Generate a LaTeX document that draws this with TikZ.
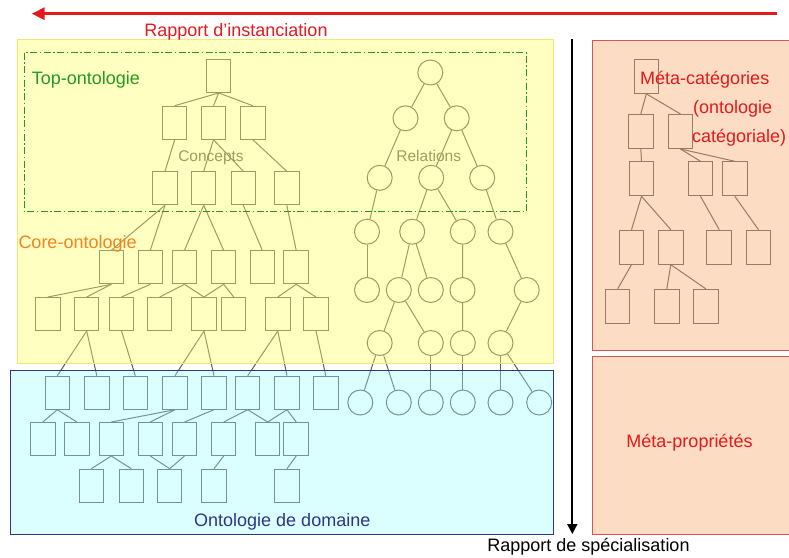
\documentclass[tikz,border=0pt]{standalone}
\usepackage{fontspec}
\setmainfont{Liberation Sans}
\usepackage{tikz}
\usetikzlibrary{arrows.meta}
\definecolor{C_LINE} {HTML}{5C5C5C}
\definecolor{C_YEL}  {HTML}{FFFF66}
\definecolor{C_YELB} {HTML}{EFEA72}
\definecolor{C_CYAN} {HTML}{99FFFF}
\definecolor{C_NAVY} {HTML}{2E3586}
\definecolor{C_PEACH}{HTML}{F8A866}
\definecolor{C_REDB} {HTML}{D9534F}
\definecolor{C_RED}  {HTML}{E3191C}
\definecolor{C_GREEN}{HTML}{229A22}
\definecolor{C_ORNG} {HTML}{F4821F}
\tikzset{
  %% -- concept / category box --
  ONT/box/.style={
    draw=C_LINE, line width=1pt,
    minimum width=24.5pt, minimum height=33pt, inner sep=0pt
  },
  %% -- relation circle --
  ONT/rel/.style={
    draw=C_LINE, line width=1pt, circle,
    minimum size=25pt, inner sep=0pt
  },
  %% -- tree edge --
  ONT/edge/.style={draw=C_LINE, line width=1pt},
  %% -- semi transparent zone overlay --
  ONT/zone/.style={line width=1pt, fill opacity=0.4},
  %% -- tree caption (drawn under the overlay) --
  ONT/cap/.style={font=\fontsize{15.5}{17}\selectfont, color=C_LINE, inner sep=0pt},
  %% -- zone label --
  ONT/lbl/.style={font=\fontsize{18}{20}\selectfont, inner sep=0pt},
  %% -- big arrows --
  ONT/arr/.style={-{Triangle[length=13pt, width=12pt]}, line width=3pt},
}

\begin{document}
\begin{tikzpicture}[x=1pt, y=-1pt]

\useasboundingbox (0,0) rectangle (789,557);

%% ━━━━━━━━━━━━━━━━━━━━━━━━━━━━━━━━━━━━━━━━━━━━━━━━━━━━━━━━━━━━━━━━━━━━━
%%  CONCEPTS TREE
%% ━━━━━━━━━━━━━━━━━━━━━━━━━━━━━━━━━━━━━━━━━━━━━━━━━━━━━━━━━━━━━━━━━━━━━
\foreach \r/\y/\xs in {
  1/76/{218.7},
  2/122.7/{174.7,213.5,252.8},
  3/188.3/{165,203.7,243.3,286.8},
  4/267.3/{111.3,150.3,184.5,223.7,262.3,296.2},
  5/314/{47.8,86.7,121.5,159.7,204,233.7,277.8,316},
  6/392.7/{57.3,96.8,135.3,175,214,247.7,287,325.8},
  7/439/{42.8,76.8,111.3,150.3,184.5,223.7,267.7,296.2},
  8/485.7/{91.3,131.3,169.7,214,287}}{
  \foreach \x [count=\i] in \xs
    \node[ONT/box] (c\r-\i) at (\x,\y) {};
}

\foreach \a/\b in {
  1-1/2-1, 1-1/2-2, 1-1/2-3,
  2-1/3-1, 2-2/3-2, 2-2/3-3, 2-3/3-4,
  3-1/4-1, 3-1/4-2, 3-2/4-3, 3-2/4-4, 3-3/4-5, 3-4/4-6,
  4-1/5-1, 4-1/5-2, 4-2/5-3, 4-3/5-4, 4-3/5-5, 4-4/5-5, 4-4/5-6,
  4-6/5-7, 4-6/5-8,
  5-2/6-1, 5-2/6-2, 5-3/6-3, 5-5/6-4, 5-5/6-5, 5-7/6-6, 5-7/6-7, 5-8/6-8,
  6-1/7-1, 6-1/7-2, 6-4/7-3, 6-4/7-4, 6-5/7-5, 6-6/7-6, 6-6/7-7,
  6-7/7-7, 6-7/7-8,
  7-3/8-1, 7-3/8-2, 7-4/8-3, 7-5/8-3, 7-6/8-4, 7-8/8-5}
  \draw[ONT/edge] (c\a.south) -- (c\b.north);

\node[ONT/cap, anchor=base] (concepts) at (211,161.7) {Concepts};

%% ━━━━━━━━━━━━━━━━━━━━━━━━━━━━━━━━━━━━━━━━━━━━━━━━━━━━━━━━━━━━━━━━━━━━━
%%  RELATIONS TREE
%% ━━━━━━━━━━━━━━━━━━━━━━━━━━━━━━━━━━━━━━━━━━━━━━━━━━━━━━━━━━━━━━━━━━━━━
\foreach \r/\y/\xs in {
  1/72.5/{430.3},
  2/118.3/{405.5,456.7},
  3/177.8/{379.7,431.2,482.2},
  4/231.7/{367,412.2,462.8,500.5},
  5/290/{367,398.8,430.8,462.5,526.7},
  6/343/{379.7,430.8,462.8,500.5},
  7/402.5/{360.3,398.8,430.8,462.8,500.5,539.2}}{
  \foreach \x [count=\i] in \xs
    \node[ONT/rel] (r\r-\i) at (\x,\y) {};
}

\foreach \a/\b in {
  1-1/2-1, 1-1/2-2, 2-1/3-1, 2-2/3-2, 2-2/3-3,
  3-1/4-1, 3-2/4-2, 3-2/4-3, 3-3/4-4,
  4-1/5-1, 4-2/5-2, 4-2/5-3, 4-3/5-4, 4-4/5-5,
  5-2/6-1, 5-2/6-2, 5-4/6-3, 5-5/6-4,
  6-1/7-1, 6-1/7-2, 6-2/7-3, 6-3/7-4, 6-4/7-5, 6-4/7-6}
  \draw[ONT/edge] (r\a) -- (r\b);

\node[ONT/cap, anchor=base] (relations) at (428.7,161.7) {Relations};

%% ━━━━━━━━━━━━━━━━━━━━━━━━━━━━━━━━━━━━━━━━━━━━━━━━━━━━━━━━━━━━━━━━━━━━━
%%  META-CATEGORIES TREE
%% ━━━━━━━━━━━━━━━━━━━━━━━━━━━━━━━━━━━━━━━━━━━━━━━━━━━━━━━━━━━━━━━━━━━━━
\foreach \r/\y/\xs in {
  1/76.3/{646.3},
  2/131.5/{640.8,680.5},
  3/178.8/{641.5,700.5,734.8},
  4/247.2/{631.5,670.8,719.2,758.5},
  5/306.3/{617.7,666.8,705.8}}{
  \foreach \x [count=\i] in \xs
    \node[ONT/box, minimum height=34pt] (m\r-\i) at (\x,\y) {};
}

\foreach \a/\b in {
  1-1/2-1, 1-1/2-2, 2-1/3-1, 2-2/3-2, 2-2/3-3,
  3-1/4-1, 3-1/4-2, 3-2/4-3, 3-3/4-4,
  4-1/5-1, 4-2/5-2, 4-2/5-3}
  \draw[ONT/edge] (m\a.south) -- (m\b.north);

%% ━━━━━━━━━━━━━━━━━━━━━━━━━━━━━━━━━━━━━━━━━━━━━━━━━━━━━━━━━━━━━━━━━━━━━
%%  ZONES (overlays)
%% ━━━━━━━━━━━━━━━━━━━━━━━━━━━━━━━━━━━━━━━━━━━━━━━━━━━━━━━━━━━━━━━━━━━━━
%% Core-ontologie zone
\draw[ONT/zone, draw=C_YELB, fill=C_YEL] (17.3,39.3) rectangle (553.3,363.3);
%% Domain zone
\draw[ONT/zone, draw=C_NAVY, fill=C_CYAN, fill opacity=0.35]
  (10.7,370) rectangle (553.3,534.5);
%% Meta zones
\draw[ONT/zone, draw=C_REDB, fill=C_PEACH] (592.3,40) rectangle (800,350);
\draw[ONT/zone, draw=C_REDB, fill=C_PEACH] (592.3,356.7) rectangle (800,534.3);

%% Top-ontologie frame
\draw[C_GREEN, line width=0.8pt,
      dash pattern=on 7pt off 2.5pt on 1.5pt off 2.5pt]
  (24,52.7) rectangle (526.7,211.3);

%% ━━━━━━━━━━━━━━━━━━━━━━━━━━━━━━━━━━━━━━━━━━━━━━━━━━━━━━━━━━━━━━━━━━━━━
%%  LABELS
%% ━━━━━━━━━━━━━━━━━━━━━━━━━━━━━━━━━━━━━━━━━━━━━━━━━━━━━━━━━━━━━━━━━━━━━
\node[ONT/lbl, anchor=base west, color=C_GREEN] (top) at (31.7,84)
  {Top-ontologie};
\node[ONT/lbl, anchor=base west, color=C_ORNG] (core) at (18.3,248.3)
  {Core-ontologie};
\node[ONT/lbl, anchor=base west, color=C_NAVY] (domain) at (194,526.7)
  {Ontologie de domaine};
%% (base of a multi-line node = base of its last line)
\node[ONT/lbl, anchor=base west, color=C_RED, align=left,
      font=\fontsize{18}{29}\selectfont] (metacat) at (640,142)
  {Méta-catégories\\\hspace*{53pt}(ontologie\\\hspace*{52pt}catégoriale)};
\node[ONT/lbl, anchor=base, color=C_RED] (metaprop) at (689.5,447.3)
  {Méta-propriétés};

%% ━━━━━━━━━━━━━━━━━━━━━━━━━━━━━━━━━━━━━━━━━━━━━━━━━━━━━━━━━━━━━━━━━━━━━
%%  ARROWS
%% ━━━━━━━━━━━━━━━━━━━━━━━━━━━━━━━━━━━━━━━━━━━━━━━━━━━━━━━━━━━━━━━━━━━━━
%% Instanciation (right to left)
\coordinate (inst-from) at (777.3,13.7);
\coordinate (inst-to)   at (31.7,13.7);
\draw[ONT/arr, C_RED] (inst-from) -- (inst-to);
\node[ONT/lbl, anchor=base, color=C_RED] (inst) at (236,36.7)
  {Rapport d’instanciation};

%% Specialisation (top to bottom)
\coordinate (spec-from) at (572.3,39);
\coordinate (spec-to)   at (572.3,534);
\draw[-{Triangle[length=10pt, width=10pt]}, line width=2pt, black]
  (spec-from) -- (spec-to);
\node[ONT/lbl, anchor=base] (spec) at (588.5,551.7)
  {Rapport de spécialisation};

\end{tikzpicture}
\end{document}
